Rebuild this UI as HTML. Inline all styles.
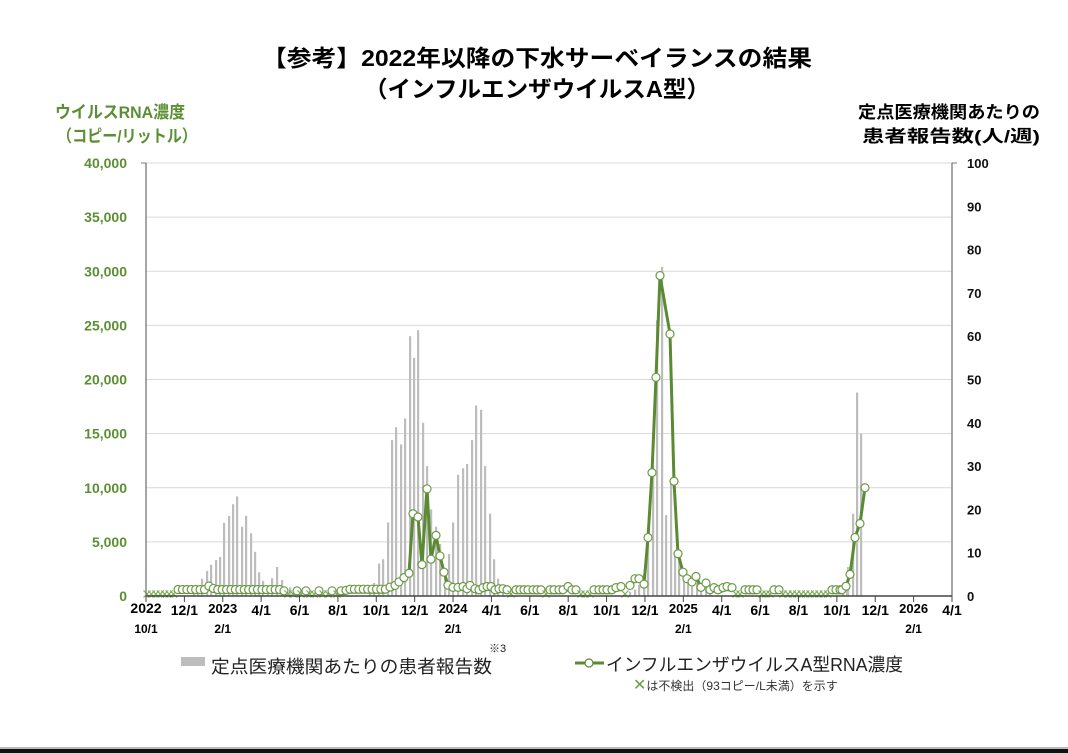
<!DOCTYPE html>
<html><head><meta charset="utf-8"><style>
html,body{margin:0;padding:0;background:#fff;}
svg{display:block;}
text{font-family:"Liberation Sans","Noto Sans CJK JP",sans-serif;}
</style></head><body>
<svg id="s" width="1068" height="753" viewBox="0 0 1068 753" xmlns="http://www.w3.org/2000/svg">
<rect width="1068" height="753" fill="#fff"/>
<text x="537" y="66" text-anchor="middle" font-size="23" font-weight="bold" textLength="550" lengthAdjust="spacingAndGlyphs">【参考】2022年以降の下水サーベイランスの結果</text>
<text x="537" y="97" text-anchor="middle" font-size="23" font-weight="bold" textLength="346" lengthAdjust="spacingAndGlyphs">（インフルエンザウイルスA型）</text>
<text x="55" y="118" font-size="17" font-weight="bold" fill="#5b8f33" textLength="130" lengthAdjust="spacingAndGlyphs">ウイルスRNA濃度</text>
<text x="57" y="142" font-size="17" font-weight="bold" fill="#5b8f33" textLength="140" lengthAdjust="spacingAndGlyphs">（コピー/リットル）</text>
<text x="1040" y="118" text-anchor="end" font-size="17" font-weight="bold" textLength="182" lengthAdjust="spacingAndGlyphs">定点医療機関あたりの</text>
<text x="1040" y="142" text-anchor="end" font-size="17" font-weight="bold" textLength="178" lengthAdjust="spacingAndGlyphs">患者報告数(人/週)</text>
<g id="grid"></g>
<g id="bars"></g>
<g id="line"></g>
<g id="axes"></g>
<rect x="181" y="657" width="24" height="9" fill="#bdbdbd"/>
<text x="211" y="673" font-size="18" fill="#222" textLength="281" lengthAdjust="spacingAndGlyphs">定点医療機関あたりの患者報告数</text>
<text x="489" y="652" font-size="11" fill="#222">※3</text>
<line x1="575" y1="663" x2="604" y2="663" stroke="#5a8a32" stroke-width="3"/>
<circle cx="589" cy="663" r="4" fill="#fff" stroke="#5a8a32" stroke-width="1.2"/>
<text x="606" y="671" font-size="18" fill="#222" textLength="297" lengthAdjust="spacingAndGlyphs">インフルエンザウイルスA型RNA濃度</text>
<text x="633" y="690" font-size="12" fill="#333"><tspan fill="#6aa040" font-size="16">✕</tspan>は不検出（93コピー/L未満）を示す</text>
<rect x="0" y="747" width="1068" height="2" fill="#bbb"/>
<rect x="0" y="749" width="1068" height="4" fill="#111"/>
</svg>
<script>
const NS="http://www.w3.org/2000/svg";
function el(p,t,a,txt){const e=document.createElementNS(NS,t);for(const k in a)e.setAttribute(k,a[k]);if(txt!=null)e.textContent=txt;document.getElementById(p).appendChild(e);return e;}
const X0=146,X1=952,Y0=596,Y1=163;
const yl=v=>Y0-(v/40000)*(Y0-Y1), yr=v=>Y0-(v/100)*(Y0-Y1);
// grid
for(let i=1;i<=8;i++){const y=yl(i*5000);el("grid","line",{x1:X0,x2:X1,y1:y,y2:y,stroke:"#d9d9d9","stroke-width":1});}
for(let i=0;i<=8;i++){el("axes","text",{x:127,y:yl(i*5000)+5,"text-anchor":"end","font-size":14,"font-weight":"bold",fill:"#5b8f33"},(i*5000).toLocaleString("en-US"));}
for(let i=0;i<=10;i++){el("axes","text",{x:967,y:yr(i*10)+5,"font-size":13,"font-weight":"bold",fill:"#111"},String(i*10));}
el("axes","line",{x1:X0,x2:X0,y1:Y1,y2:Y0,stroke:"#777","stroke-width":1.3});
el("axes","line",{x1:X1,x2:X1,y1:Y1,y2:Y0,stroke:"#777","stroke-width":1.3});
el("axes","line",{x1:X0,x2:X1,y1:Y0,y2:Y0,stroke:"#444","stroke-width":1.5});
el("axes","line",{x1:X0,x2:X0-5,y1:Y1,y2:Y1,stroke:"#777"});el("axes","line",{x1:X1,x2:X1+5,y1:Y1,y2:Y1,stroke:"#777"});
const labs=["10/1","12/1","2/1","4/1","6/1","8/1","10/1","12/1","2/1","4/1","6/1","8/1","10/1","12/1","2/1","4/1","6/1","8/1","10/1","12/1","2/1","4/1"];
const years={0:"2022",2:"2023",8:"2024",14:"2025",20:"2026"};
for(let i=0;i<=21;i++){const x=X0+i*806/21;el("axes","line",{x1:x,x2:x,y1:Y0,y2:Y0+6,stroke:"#444"});
 if(years[i]!==undefined){el("axes","text",{x:x,y:613,"text-anchor":"middle","font-size":i==0?14:13,"font-weight":"bold"},years[i]);el("axes","text",{x:x,y:633,"text-anchor":"middle","font-size":12,"font-weight":"bold"},labs[i]);}
 else el("axes","text",{x:x,y:615,"text-anchor":"middle","font-size":14,"font-weight":"bold"},labs[i]);}
// bars [x,val]
const bars=[[194,1],[198,2],[202,4],[207,5.8],[211,7.2],[216,8.3],[220,9],[224,16.9],[229,18.5],[233,21.2],[237,23],[242,16],[246,18.5],[251,14.5],[255,10.2],[259,5.5],[263,3.5],[268,1.8],[272,4.1],[277,6.7],[282,3.7],[290,2],
[370,1],[374,3],[379,7.5],[383,8.5],[388,17],[392,36],[396,39],[401,35],[405,41],[410,60],[414,55],[418,61.4],[423,40],[427,30],[431,20],[436,16],[440,12],[445,5],[449,9.7],[453,17],[458,28],[463,29.5],[467,30.5],[472,36],[476,44],[481,43],[485,30],[490,19],[494,8.5],[498,4],[503,2.5],
[630,1],[635,1.5],[639,2.5],[644,5],[648,12],[653,30],[657,63.7],[662,76],[666,18.7],[671,26],[675,10],[679,8],[684,5],[688,4],[692,3.5],[697,3],[701,2],[706,1.5],[710,1],
[843,1],[847,2.5],[848,6.7],[853,19],[857,47],[861,37.5]];
bars.forEach(([x,v])=>el("bars","rect",{x:x-1,y:yr(v),width:2.2,height:Y0-yr(v),fill:"#bdbdbd"}));
// line points: [x, val] val null => X marker
const W=4.415,pts=[];
function add(x,v){pts.push([x,v]);}
for(let x=147;x<176;x+=W)add(x,null);
for(let x=178;x<283;x+=W)add(x,Math.abs(x-210)<2.5?650:(Math.abs(x-214)<2.5?420:320));
[[284,200],[288,null],[293,null],[297,200],[301,null],[306,200],[310,null],[314,null],[319,200],[323,null],[328,null],[332,200],[337,null],[341,200],[346,250]].forEach(p=>add(...p));
for(let x=350;x<388;x+=W)add(x,350);
[[390,550],[395,700],[399,1300],[404,1700],[409,2100],[413,7600],[418,7300],[422,2900],[427,9900],[431,3400],[436,5600],[440,3700],[444,2200],[448,1000],[453,800],[458,800],[463,600],[467,400],[470,700],[475,400],[479,300],[483,500],[487,600],[491,600],[495,300],[499,400],[503,400],[507,300],[511,null],[516,300],[520,300],[524,300],[528,300],[533,300],[537,300],[541,300],[546,null],[550,300],[554,300],[559,300],[563,300],[568,600],[572,300],[576,300],[581,null],[585,null],[590,null],[594,300],[599,300],[603,300],[607,300],[612,300],[616,500],[621,600],[625,null],
[630,700],[635,1600],[639,1600],[644,1100],[648,5400],[652,11400],[656,20200],[660,29600],[670,24200],[674,10600],[678,3900],[683,2200],[687,1600],[692,1300],[696,1800],[701,800],[706,1200],[710,300],[714,500],[718,300],[723,500],[727,600],[732,500],
[736,null],[740,null],[745,300],[749,300],[753,300],[757,300],[762,null],[766,null],[770,null],[774,300],[779,300],[783,null]].forEach(p=>add(...p));
for(let x=788;x<830;x+=W)add(x,null);
[[832,300],[836,300],[840,300],[842,300],[846,900],[850,2000],[855,5400],[860,6700],[865,10000]].forEach(p=>add(...p));
// draw lines between consecutive detected
let seg=[];const segs=[];
pts.forEach(p=>{if(p[1]==null){if(seg.length)segs.push(seg);seg=[];}else seg.push(p);});if(seg.length)segs.push(seg);
segs.forEach(s=>{if(s.length>1)el("line","polyline",{points:s.map(p=>p[0]+","+yl(p[1])).join(" "),fill:"none",stroke:"#5a8a32","stroke-width":3,"stroke-linejoin":"round"});});
pts.forEach(([x,v])=>{if(v==null){const y=Y0-2,r=3.5;el("line","path",{d:`M${x-r} ${y-r}L${x+r} ${y+r}M${x-r} ${y+r}L${x+r} ${y-r}`,stroke:"#7aad55","stroke-width":1.2,fill:"none"});}
 else el("line","circle",{cx:x,cy:yl(v)-(v<800?3:0),r:4,fill:"#fff",stroke:"#6a9a45","stroke-width":1.2});});
</script>
</body></html>
